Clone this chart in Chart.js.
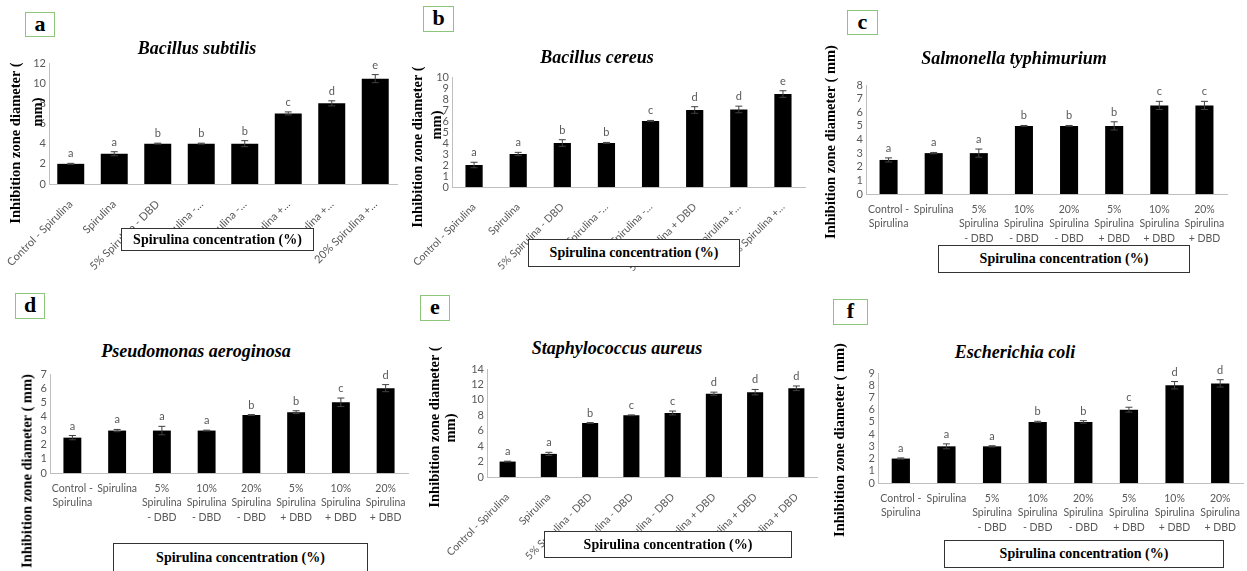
<!DOCTYPE html>
<html>
<head>
<meta charset="utf-8">
<script src="https://cdn.jsdelivr.net/npm/chart.js@4.4.0/dist/chart.umd.min.js"></script>
<style>
html, body { margin: 0; padding: 0; background: #fff; }
#fig { position: relative; width: 1247px; height: 571px; overflow: hidden; background: #fff; }
.cv { position: absolute; }
.tag, .ttl, .yt, .xb { font-family: "Liberation Serif", "Times New Roman", serif; font-weight: bold; color: #000; }
.tag { position: absolute; border: 1.3px solid #8dc57a; font-size: 22px; text-align: center; box-sizing: border-box; line-height: 22px; background: #fff; z-index: 3; }
.ttl { position: absolute; font-style: italic; font-size: 18px; transform: translate(-50%, -50%); white-space: nowrap; z-index: 3; }
.yt { position: absolute; font-size: 14.5px; transform: translate(-50%, -50%) rotate(-90deg); white-space: nowrap; z-index: 3; }
.xb { position: absolute; border: 1px solid #333; background: #fff; font-size: 14px; display: flex; align-items: center; justify-content: center; box-sizing: border-box; z-index: 3; }
</style>
</head>
<body>
<div id="fig"></div>
<script>
// ---- data ----
const catsShortA = ['Control - Spirulina', 'Spirulina', '5% Spirulina - DBD', '10% Spirulina -…', '20% Spirulina -…', '5% Spirulina +…', '10% Spirulina +…', '20% Spirulina +…'];
const catsShortB = ['Control - Spirulina', 'Spirulina', '5% Spirulina - DBD', '10% Spirulina -…', '20% Spirulina -…', '5% Spirulina + DBD', '10% Spirulina +…', '20% Spirulina +…'];
const catsFull = ['Control - Spirulina', 'Spirulina', '5% Spirulina - DBD', '10% Spirulina - DBD', '20% Spirulina - DBD', '5% Spirulina + DBD', '10% Spirulina + DBD', '20% Spirulina + DBD'];
const catsWrapped = [['Control -', 'Spirulina'], ['Spirulina'], ['5%', 'Spirulina', '- DBD'], ['10%', 'Spirulina', '- DBD'], ['20%', 'Spirulina', '- DBD'], ['5%', 'Spirulina', '+ DBD'], ['10%', 'Spirulina', '+ DBD'], ['20%', 'Spirulina', '+ DBD']];

// a: Bacillus subtilis
const valsA = [2, 3, 4, 4, 4, 7, 8, 10.45];
const errA = [0.05, 0.2, 0.05, 0.05, 0.3, 0.15, 0.25, 0.4];
const letA = ['a', 'a', 'b', 'b', 'b', 'c', 'd', 'e'];
// b: Bacillus cereus
const valsB = [2, 3, 4, 4, 6, 7, 7.05, 8.45];
const errB = [0.25, 0.15, 0.3, 0.05, 0.05, 0.3, 0.3, 0.3];
const letB = ['a', 'a', 'b', 'b', 'c', 'd', 'd', 'e'];
// c: Salmonella typhimurium
const valsC = [2.5, 3, 3, 5, 5, 5, 6.5, 6.5];
const errC = [0.15, 0.05, 0.3, 0.03, 0.03, 0.3, 0.3, 0.3];
const letC = ['a', 'a', 'a', 'b', 'b', 'b', 'c', 'c'];
// d: Pseudomonas aeroginosa
const valsD = [2.5, 3, 3, 3, 4.1, 4.3, 5, 6];
const errD = [0.15, 0.08, 0.3, 0.03, 0.03, 0.1, 0.3, 0.25];
const letD = ['a', 'a', 'a', 'a', 'b', 'b', 'c', 'd'];
// e: Staphylococcus aureus
const valsE = [2, 3, 7, 8, 8.3, 10.8, 11, 11.5];
const errE = [0.05, 0.2, 0.05, 0.05, 0.25, 0.2, 0.35, 0.3];
const letE = ['a', 'a', 'b', 'c', 'c', 'd', 'd', 'd'];
// f: Escherichia coli
const valsF = [2, 3, 3, 5, 5, 6, 8, 8.15];
const errF = [0.05, 0.2, 0.05, 0.05, 0.1, 0.2, 0.3, 0.3];
const letF = ['a', 'a', 'a', 'b', 'b', 'c', 'd', 'd'];

// y axis ticks: max / step
const yMaxA = 12, yStepA = 2;
const yMaxB = 10, yStepB = 1;
const yMaxC = 8, yStepC = 1;
const yMaxD = 7, yStepD = 1;
const yMaxE = 14, yStepE = 2;
const yMaxF = 9, yStepF = 1;

const yTitle = 'Inhibition zone diameter ( mm)';
const xTitle = 'Spirulina concentration (%)';

Chart.defaults.font.family = 'Lato';
Chart.defaults.font.size = 10.5;
Chart.defaults.color = '#595959';

const fig = document.getElementById('fig');

// error bars + significance letters
const errPlugin = {
  id: 'errBars',
  afterDatasetsDraw(chart, args, opts) {
    const { ctx } = chart;
    const y = chart.scales.y;
    const vals = chart.data.datasets[0].data;
    ctx.save();
    chart.getDatasetMeta(0).data.forEach((bar, i) => {
      const hi = y.getPixelForValue(vals[i] + opts.errors[i]);
      const lo = y.getPixelForValue(vals[i] - opts.errors[i]);
      ctx.strokeStyle = '#404040';
      ctx.lineWidth = 1;
      ctx.beginPath();
      ctx.moveTo(bar.x, hi); ctx.lineTo(bar.x, lo);
      ctx.moveTo(bar.x - 3.5, hi); ctx.lineTo(bar.x + 3.5, hi);
      ctx.moveTo(bar.x - 3.5, lo); ctx.lineTo(bar.x + 3.5, lo);
      ctx.stroke();
      ctx.fillStyle = '#595959';
      ctx.font = '11px Lato';
      ctx.textAlign = 'center';
      ctx.textBaseline = 'alphabetic';
      ctx.fillText(opts.letters[i], bar.x, hi - 6);
    });
    ctx.restore();
  }
};

function addDiv(cls, text, css) {
  const d = document.createElement('div');
  d.className = cls;
  d.textContent = text;
  Object.assign(d.style, css);
  fig.appendChild(d);
  return d;
}

function panel(g, labels, vals, errs, lets, yMax, yStep) {
  const rotated = !!g.fs;
  const yW = 50, padT = 10, padR = 6, xH = rotated ? 100 : 60;
  const w = g.right - g.left + yW + padR;
  const h = g.bottom - g.top + padT + xH;
  const box = document.createElement('div');
  box.className = 'cv';
  Object.assign(box.style, { left: (g.left - yW) + 'px', top: (g.top - padT) + 'px', width: w + 'px', height: h + 'px' });
  const cv = document.createElement('canvas');
  box.appendChild(cv);
  fig.appendChild(box);
  new Chart(cv, {
    type: 'bar',
    data: { labels, datasets: [{ data: vals, backgroundColor: '#000', barPercentage: g.bar, categoryPercentage: 1 }] },
    options: {
      responsive: true, maintainAspectRatio: false, animation: false,
      layout: { padding: { top: padT, right: padR, left: 0, bottom: 0 } },
      plugins: { legend: { display: false }, tooltip: { enabled: false }, errBars: { errors: errs, letters: lets } },
      scales: {
        x: {
          grid: { display: false, drawTicks: false }, border: { color: '#bfbfbf' },
          ticks: {
            autoSkip: false, minRotation: rotated ? 45 : 0, maxRotation: rotated ? 45 : 0,
            padding: rotated ? 13 : 8, font: { size: rotated ? g.fs : 10.5, lineHeight: 1.38 }
          },
          afterFit: s => { s.height = xH; s.paddingLeft = 0; s.paddingRight = 0; }
        },
        y: {
          min: 0, max: yMax,
          grid: { display: false, drawTicks: false }, border: { color: '#bfbfbf' },
          ticks: { stepSize: yStep, padding: 3, autoSkip: false, font: { size: 11 } },
          afterFit: s => { s.width = yW; s.paddingTop = 0; s.paddingBottom = 0; }
        }
      }
    },
    plugins: [errPlugin]
  });
}

// ---- panels ----
panel({ left: 49, right: 397, top: 63, bottom: 184, bar: 0.62, fs: 11 }, catsShortA, valsA, errA, letA, yMaxA, yStepA);
panel({ left: 452, right: 805, top: 77, bottom: 187, bar: 0.39, fs: 10.5 }, catsShortB, valsB, errB, letB, yMaxB, yStepB);
panel({ left: 866, right: 1227, top: 85, bottom: 194, bar: 0.4 }, catsWrapped, valsC, errC, letC, yMaxC, yStepC);
panel({ left: 50, right: 408, top: 374, bottom: 473, bar: 0.4 }, catsWrapped, valsD, errD, letD, yMaxD, yStepD);
panel({ left: 487, right: 817, top: 369, bottom: 477, bar: 0.39, fs: 10.5 }, catsFull, valsE, errE, letE, yMaxE, yStepE);
panel({ left: 878, right: 1243, top: 373, bottom: 483, bar: 0.4 }, catsWrapped, valsF, errF, letF, yMaxF, yStepF);

// panel letters
addDiv('tag', 'a', { left: '25px', top: '12px', width: '30px', height: '25px' });
addDiv('tag', 'b', { left: '423px', top: '6px', width: '31px', height: '26px' });
addDiv('tag', 'c', { left: '847px', top: '10px', width: '31px', height: '25px' });
addDiv('tag', 'd', { left: '15px', top: '293px', width: '30px', height: '26px' });
addDiv('tag', 'e', { left: '420px', top: '295px', width: '30px', height: '26px' });
addDiv('tag', 'f', { left: '833px', top: '299px', width: '35px', height: '26px' });

// titles
addDiv('ttl', 'Bacillus subtilis', { left: '197px', top: '48px' });
addDiv('ttl', 'Bacillus cereus', { left: '597px', top: '57px' });
addDiv('ttl', 'Salmonella typhimurium', { left: '1014px', top: '58px' });
addDiv('ttl', 'Pseudomonas aeroginosa', { left: '196px', top: '351px' });
addDiv('ttl', 'Staphylococcus aureus', { left: '617px', top: '348px' });
addDiv('ttl', 'Escherichia coli', { left: '1015px', top: '352px' });

// y titles
addDiv('yt', 'Inhibition zone diameter (', { left: '15px', top: '143px' });
addDiv('yt', 'mm)', { left: '37px', top: '112px' });
addDiv('yt', 'Inhibition zone diameter (', { left: '417px', top: '147px' });
addDiv('yt', 'mm)', { left: '436px', top: '125px' });
addDiv('yt', yTitle, { left: '830px', top: '142px' });
addDiv('yt', yTitle, { left: '27px', top: '471px' });
addDiv('yt', 'Inhibition zone diameter (', { left: '434px', top: '427px' });
addDiv('yt', 'mm)', { left: '450px', top: '428px' });
addDiv('yt', yTitle, { left: '839px', top: '440px' });

// x title boxes (the first and fifth hide the label ends under them)
addDiv('xb', xTitle, { left: '121px', top: '228px', width: '193px', height: '23px', boxShadow: '0 14px 0 0 #fff' });
addDiv('xb', xTitle, { left: '528px', top: '239px', width: '212px', height: '28px' });
addDiv('xb', xTitle, { left: '938px', top: '245px', width: '252px', height: '28px' });
addDiv('xb', xTitle, { left: '113px', top: '543px', width: '255px', height: '30px' });
addDiv('xb', xTitle, { left: '544px', top: '531px', width: '248px', height: '27px', boxShadow: '0 14px 0 0 #fff' });
addDiv('xb', xTitle, { left: '944px', top: '540px', width: '280px', height: '28px' });
</script>
</body>
</html>
